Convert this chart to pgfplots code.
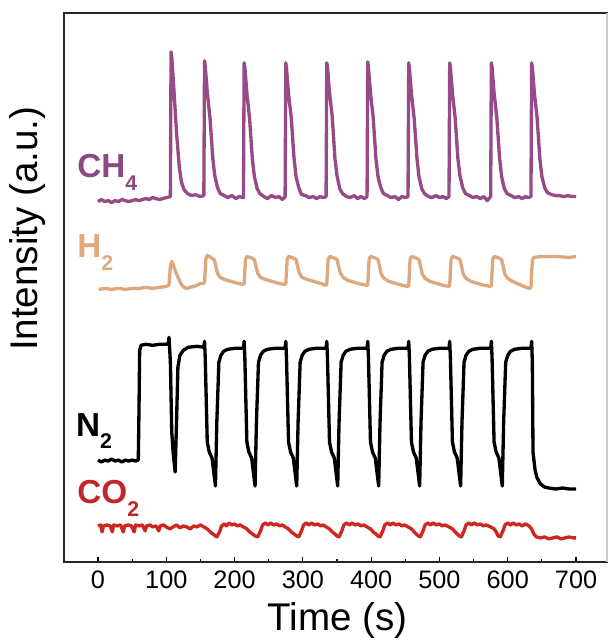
\documentclass[border=0pt]{standalone}
\usepackage{fontspec}
\setmainfont{Liberation Sans}
\usepackage{pgfplots}
\pgfplotsset{compat=1.18}
\definecolor{ch4c}{RGB}{150,75,135}
\definecolor{h2c}{RGB}{222,168,126}
\definecolor{co2c}{RGB}{205,40,32}
\definecolor{ch4lab}{RGB}{140,72,128}
\definecolor{h2lab}{RGB}{224,170,124}
\definecolor{co2lab}{RGB}{192,38,42}
\newcommand{\sub}[1]{\raisebox{-0.38em}{\fontsize{16}{16}\selectfont #1}}

\begin{document}
\begin{tikzpicture}
\begin{axis}[
  width=408pt, height=412.5pt, scale only axis,
  xmin=-50, xmax=745, ymin=0, ymax=550,
  xtick={0,100,...,700}, minor x tick num=1,
  ytick=\empty, xtick pos=bottom,
  tick align=inside,
  major tick length=4pt, minor tick length=2.5pt,
  every tick/.style={line width=0.9pt, black},
  axis line style={line width=1.3pt, black!85},
  tick label style={font=\fontsize{19}{21}\selectfont},
  xticklabel style={yshift=-3pt},
  /pgf/number format/assume math mode=true,
  xlabel={Time (s)}, ylabel={Intensity (a.u.)},
  label style={font=\fontsize{29}{32}\selectfont},
  xlabel style={at={(rel axis cs:0.504,-0.107)}, anchor=center},
  ylabel style={at={(rel axis cs:-0.066,0.607)}, anchor=center},
  clip=false,
]
\path (rel axis cs:-0.1176,-0.1455) rectangle (rel axis cs:1.0055,1.0236);
\draw[black!20, line width=1.3pt] (rel axis cs:1,0) -- (rel axis cs:1,1);

% CH4
\addplot[ch4c, line width=2.5pt, line join=round] coordinates {
(0,361) (5,363) (10,361) (15,362) (20,360) (25,362) (30,361) (35,363) (40,362) (45,361)
(50,362) (55,363) (60,362) (65,363) (70,364) (75,363) (80,365) (85,364) (90,363) (95,364)
(100,365) (106,366)
(107,511) (108,506) (111,475) (115,430) (119,396) (122,381) (126,373) (131,369) (137,367) (143,368) (149,366) (155,367)
(156,502) (157,497) (160,471) (164,445) (168,405) (171,387) (175,375) (179,369) (185,367) (190,365) (196,367) (202,364) (207,366) (213,365)
(214,500) (215,496) (218,470) (222,444) (226,404) (229,386) (233,374) (237,369) (243,366) (248,364) (254,367) (260,365) (265,366) (270,363) (274,366)
(275,500) (276,495) (279,469) (283,445) (287,405) (290,386) (294,375) (298,368) (304,367) (309,365) (315,366) (320,364) (325,366) (330,365) (334,366)
(335,500) (336,496) (339,470) (343,446) (347,404) (350,387) (354,374) (358,369) (364,366) (369,365) (375,367) (380,364) (385,366) (390,364) (394,366)
(395,501) (396,496) (399,470) (403,445) (407,404) (410,386) (414,375) (418,369) (424,367) (429,365) (435,366) (440,363) (445,366) (450,365) (454,366)
(455,500) (456,495) (459,469) (463,444) (467,405) (470,386) (474,374) (478,369) (484,366) (489,365) (495,367) (500,365) (505,366) (510,364) (514,366)
(515,500) (516,496) (519,470) (523,445) (527,404) (530,387) (534,375) (538,369) (544,367) (549,365) (555,366) (560,364) (565,366) (570,362) (575,366)
(576,500) (577,496) (580,470) (584,445) (588,405) (591,386) (595,374) (599,369) (605,367) (610,365) (616,366) (621,364) (626,366) (630,365) (634,366)
(635,500) (636,496) (639,470) (643,445) (647,404) (650,386) (654,375) (658,370) (664,368) (670,367) (676,367) (682,366) (688,367) (694,366) (700,366)
};

% H2
\addplot[h2c, line width=2.5pt, line join=round] coordinates {
(1,273) (10,274) (20,273) (30,274) (40,273) (50,274) (60,274) (70,275) (80,274) (90,275) (100,276) (103,277)
(104,278) (106,296) (108,301) (110,298) (114,290) (118,284) (122,278) (126,275) (130,274) (135,275) (140,276) (145,277) (150,279) (155,279)
(156,280) (158,304) (160,307) (165,305) (170,303) (172,298) (175,289) (179,285) (185,283) (195,281) (205,279) (213,278)
(214,279) (216,303) (218,306) (223,305) (229,303) (231,297) (234,289) (238,285) (245,283) (255,281) (265,279) (274,278)
(275,279) (277,303) (279,306) (284,305) (290,303) (292,297) (295,289) (299,285) (306,283) (316,281) (326,279) (334,277)
(335,278) (337,303) (339,306) (344,305) (350,303) (352,297) (355,289) (359,285) (366,282) (376,280) (386,278) (394,277)
(395,278) (397,303) (399,306) (404,305) (410,303) (412,297) (415,288) (419,284) (426,281) (436,279) (446,277) (454,276)
(455,277) (457,303) (459,306) (464,305) (470,303) (472,297) (475,288) (479,284) (486,281) (496,279) (506,277) (514,276)
(515,277) (517,303) (519,306) (524,305) (530,303) (532,297) (535,288) (539,284) (546,281) (556,279) (566,277) (575,276)
(576,277) (578,303) (580,306) (585,305) (591,303) (593,297) (596,288) (600,284) (607,281) (617,278) (627,275) (633,274)
(634,276) (636,302) (638,305) (650,306) (670,306) (690,305) (700,306)
};

% N2
\addplot[black, line width=2.5pt, line join=round] coordinates {
(0,102) (5,100) (10,102) (15,101) (20,103) (25,101) (30,102) (35,100) (40,102) (45,101) (50,102) (55,101) (59,102)
(60,150) (61,212) (63,217) (70,218) (80,217) (90,218) (100,218) (103,219) (104,225)
(106,200) (108,130) (110,110) (113,90) (115,140) (117,195) (120,207) (125,212) (132,215) (145,216) (155,215)
(156,221) (157,205) (160,120) (163,110) (167,104) (172,76) (174,140) (177,200) (180,207) (184,211) (190,213) (201,214) (213,214)
(214,221) (215,205) (218,120) (221,110) (225,104) (230,76) (232,140) (235,200) (238,207) (242,211) (248,213) (259,214) (274,214)
(275,221) (276,205) (279,120) (282,110) (286,104) (291,76) (293,140) (296,200) (299,207) (303,211) (309,213) (320,214) (334,214)
(335,221) (336,205) (339,120) (342,110) (346,104) (351,76) (353,140) (356,200) (359,207) (363,211) (369,213) (380,214) (394,214)
(395,221) (396,205) (399,120) (402,110) (406,104) (411,76) (413,140) (416,200) (419,207) (423,211) (429,213) (440,214) (454,214)
(455,221) (456,205) (459,120) (462,110) (466,104) (471,76) (473,140) (476,200) (479,207) (483,211) (489,213) (500,214) (514,214)
(515,221) (516,205) (519,120) (522,110) (526,104) (531,76) (533,140) (536,200) (539,207) (543,211) (549,213) (560,214) (575,214)
(576,221) (577,205) (580,120) (583,110) (587,104) (592,76) (594,140) (597,200) (600,207) (604,211) (610,213) (621,214) (634,214)
(635,221) (636,200) (637,110) (640,92) (643,84) (648,78) (654,75) (660,74) (670,73) (680,74) (690,73) (700,73)
};

% CO2
\addplot[co2c, line width=2.5pt, line join=round] coordinates {
(0,36) (4,37) (6,30) (8,36) (13,37) (18,36) (21,30) (23,37) (28,36) (33,37) (37,30) (39,36) (44,37) (49,36)
(53,30) (55,37) (60,36) (65,37) (69,31) (71,36) (76,37) (80,35) (85,36) (89,31) (91,36) (96,37) (100,35)
(105,33) (110,35) (115,37) (120,34) (125,36) (130,35) (135,33) (140,36) (145,35) (150,37) (155,35)
(160,33) (163,31) (166,29) (170,27) (174,25) (178,30) (181,36) (185,38) (188,36) (192,39) (196,37) (200,38) (204,36) (208,37) (213,35)
(218,33) (222,30) (226,28) (230,26) (234,25) (238,31) (241,37) (245,39) (249,37) (253,39) (257,37) (262,38) (266,36) (270,37) (274,35)
(279,33) (283,30) (287,28) (291,26) (294,25) (298,31) (301,37) (305,39) (309,37) (313,39) (317,37) (322,38) (326,36) (330,37) (334,35)
(339,33) (343,30) (347,28) (350,26) (353,25) (357,31) (360,37) (364,39) (368,37) (372,39) (376,37) (381,38) (385,36) (389,37) (394,35)
(399,33) (403,30) (407,28) (410,26) (413,25) (417,31) (420,37) (424,39) (428,37) (432,39) (436,37) (441,38) (445,36) (449,37) (454,35)
(459,33) (463,30) (466,28) (469,26) (472,25) (476,31) (479,37) (483,39) (487,37) (491,39) (495,37) (500,38) (504,36) (508,37) (514,35)
(519,33) (523,30) (526,28) (529,26) (532,25) (536,31) (539,37) (543,39) (547,37) (551,39) (555,37) (560,38) (564,36) (568,37) (575,35)
(580,33) (583,30) (586,26) (589,25) (593,31) (596,37) (600,39) (604,37) (608,39) (612,37) (617,38) (621,36) (626,38) (631,36)
(635,33) (638,28) (642,25) (648,24) (654,25) (660,23) (666,24) (672,25) (678,23) (684,24) (690,25) (696,24) (700,24)
};

\node[anchor=base west, text=ch4lab, font=\fontsize{25}{25}\selectfont\bfseries] at (axis cs:-37,385) {CH\sub{4}};
\node[anchor=base west, text=h2lab, font=\fontsize{25}{25}\selectfont\bfseries] at (axis cs:-37,305) {H\sub{2}};
\node[anchor=base west, text=black, font=\fontsize{25}{25}\selectfont\bfseries] at (axis cs:-39,126) {N\sub{2}};
\node[anchor=base west, text=co2lab, font=\fontsize{25}{25}\selectfont\bfseries] at (axis cs:-37,58) {CO\sub{2}};
\end{axis}
\end{tikzpicture}
\end{document}
